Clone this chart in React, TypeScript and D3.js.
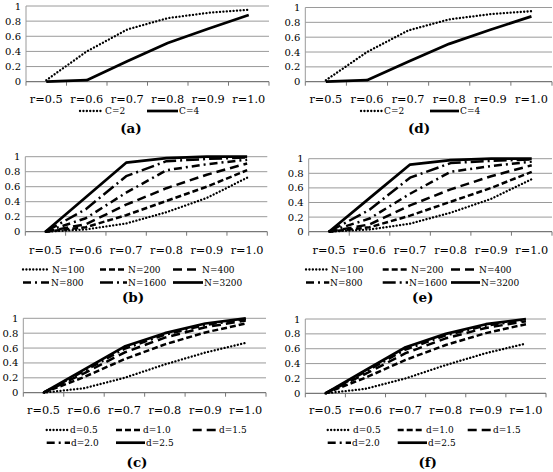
import React from "react";
import * as d3 from "d3";

const categories = ["r=0.5", "r=0.6", "r=0.7", "r=0.8", "r=0.9", "r=1.0"];
const yTicks = [0, 0.2, 0.4, 0.6, 0.8, 1];
const yTickLabels = ["0", "0.2", "0.4", "0.6", "0.8", "1"];

// Panel (a)/(d) series
const seriesCNames = ["C=2", "C=4"];
const c2 = [0.02, 0.4, 0.69, 0.84, 0.91, 0.95];
const c4 = [0, 0.02, 0.27, 0.51, 0.7, 0.88];

// Panel (b)/(e) series
const seriesNNames = ["N=100", "N=200", "N=400", "N=800", "N=1600", "N=3200"];
const n100 = [0, 0.03, 0.11, 0.26, 0.45, 0.72];
const n200 = [0, 0.06, 0.22, 0.41, 0.6, 0.82];
const n400 = [0, 0.1, 0.36, 0.58, 0.76, 0.91];
const n800 = [0, 0.18, 0.52, 0.82, 0.9, 0.96];
const n1600 = [0, 0.3, 0.74, 0.94, 0.97, 0.99];
const n3200 = [0, 0.46, 0.92, 0.98, 1.0, 1.0];

// Panel (c)/(f) series
const seriesDNames = ["d=0.5", "d=1.0", "d=1.5", "d=2.0", "d=2.5"];
const d05 = [0, 0.06, 0.2, 0.38, 0.54, 0.67];
const d10 = [0, 0.21, 0.45, 0.65, 0.81, 0.93];
const d15 = [0, 0.26, 0.54, 0.74, 0.88, 0.97];
const d20 = [0, 0.29, 0.59, 0.78, 0.91, 0.99];
const d25 = [0, 0.31, 0.62, 0.8, 0.93, 1.0];

type Style = { dash: string; width: number; cap: "butt" | "round" };
const DOT: Style = { dash: "0.1,3.3", width: 2.3, cap: "round" };
const SOLID: Style = { dash: "", width: 2.7, cap: "butt" };
const SHORTDASH: Style = { dash: "6,3", width: 2.5, cap: "butt" };
const LONGDASH: Style = { dash: "9,5", width: 2.5, cap: "butt" };
const DASHDOT: Style = { dash: "8,4,2,4", width: 2.5, cap: "butt" };
const LONGDASHDOT: Style = { dash: "13,4,2,4", width: 2.5, cap: "butt" };

type Series = { name: string; values: number[]; style: Style };

const cSeries: Series[] = [
  { name: seriesCNames[0], values: c2, style: DOT },
  { name: seriesCNames[1], values: c4, style: SOLID },
];
const nSeries: Series[] = [
  { name: seriesNNames[0], values: n100, style: DOT },
  { name: seriesNNames[1], values: n200, style: SHORTDASH },
  { name: seriesNNames[2], values: n400, style: LONGDASH },
  { name: seriesNNames[3], values: n800, style: DASHDOT },
  { name: seriesNNames[4], values: n1600, style: LONGDASHDOT },
  { name: seriesNNames[5], values: n3200, style: SOLID },
];
const dSeries: Series[] = [
  { name: seriesDNames[0], values: d05, style: DOT },
  { name: seriesDNames[1], values: d10, style: SHORTDASH },
  { name: seriesDNames[2], values: d15, style: LONGDASH },
  { name: seriesDNames[3], values: d20, style: DASHDOT },
  { name: seriesDNames[4], values: d25, style: SOLID },
];

type LegendPos = { x1: number; x2: number; tx: number; y: number };
type Layout = {
  x0: number;
  x1: number;
  yTop: number;
  yBot: number;
  xLabelY: number;
  legend: LegendPos[];
  capX: number;
  capY: number;
  caption: string;
  series: Series[];
};

const row = (y: number, items: [number, number, number][]): LegendPos[] =>
  items.map(([x1, x2, tx]) => ({ x1, x2, tx, y }));

const layouts: Layout[] = [
  {
    x0: 26, x1: 269, yTop: 6, yBot: 81.7, xLabelY: 103,
    legend: row(111, [[80, 103, 105], [147, 178, 179]]),
    capX: 131, capY: 133, caption: "(a)", series: cSeries,
  },
  {
    x0: 25.3, x1: 267.3, yTop: 156.7, yBot: 231.7, xLabelY: 253.5,
    legend: [
      ...row(269.5, [[23, 50, 52], [100, 127, 128], [173, 200, 202]]),
      ...row(282.5, [[23, 50, 51], [100, 127, 128], [173, 203, 204]]),
    ],
    capX: 133, capY: 301.5, caption: "(b)", series: nSeries,
  },
  {
    x0: 23.3, x1: 266, yTop: 318.3, yBot: 392.7, xLabelY: 414,
    legend: [
      ...row(430, [[46.7, 68, 70], [116, 141.7, 143], [192.7, 216.7, 219]]),
      ...row(442.7, [[46.7, 70, 71], [116, 145, 146]]),
    ],
    capX: 137, capY: 467, caption: "(c)", series: dSeries,
  },
  {
    x0: 305.3, x1: 552, yTop: 7.5, yBot: 81.7, xLabelY: 103,
    legend: row(111, [[361, 382, 384], [430, 459, 460]]),
    capX: 419, capY: 133, caption: "(d)", series: cSeries,
  },
  {
    x0: 308.7, x1: 552, yTop: 158.7, yBot: 231.7, xLabelY: 253.5,
    legend: [
      ...row(269.5, [[306, 329.3, 331], [382.7, 409.3, 411], [451, 477, 479]]),
      ...row(282.5, [[306, 329.3, 330], [382.7, 408, 409], [451, 480, 481]]),
    ],
    capX: 422.7, capY: 301.5, caption: "(e)", series: nSeries,
  },
  {
    x0: 305.3, x1: 546, yTop: 319, yBot: 393.3, xLabelY: 414,
    legend: [
      ...row(430, [[327.7, 351, 353], [397.7, 424.3, 426], [467.7, 491, 493]]),
      ...row(442.7, [[327.7, 351, 352], [397.7, 427, 428]]),
    ],
    capX: 427.7, capY: 467, caption: "(f)", series: dSeries,
  },
];

const FONT = "'DejaVu Serif', serif";
const GRID = "#9a9a9a";

function Panel({ L }: { L: Layout }) {
  const x = d3.scaleBand<string>().domain(categories).range([L.x0, L.x1]).padding(0);
  const y = d3.scaleLinear().domain([0, 1]).range([L.yBot, L.yTop]);
  const line = d3
    .line<number>()
    .x((_, i) => (x(categories[i]) as number) + x.bandwidth() / 2)
    .y((v) => y(v));
  const boundaries = [...categories.map((c) => x(c) as number), L.x1];
  return (
    <g>
      {yTicks.map((t, i) => (
        <g key={"y" + i}>
          {t > 0 && (
            <line x1={L.x0} x2={L.x1} y1={y(t)} y2={y(t)} stroke={GRID} strokeWidth={1} />
          )}
          <text
            x={L.x0 - 5}
            y={y(t)}
            dy="0.35em"
            textAnchor="end"
            fontFamily={FONT}
            fontSize={10}
            fill="#000"
          >
            {yTickLabels[i]}
          </text>
        </g>
      ))}
      <line x1={L.x0} x2={L.x0} y1={L.yTop} y2={L.yBot} stroke={GRID} strokeWidth={1} />
      <line x1={L.x0} x2={L.x1} y1={L.yBot} y2={L.yBot} stroke="#777" strokeWidth={1.2} />
      {boundaries.map((bx, i) => (
        <line key={"t" + i} x1={bx} x2={bx} y1={L.yBot} y2={L.yBot + 4} stroke="#777" strokeWidth={1} />
      ))}
      {categories.map((c) => (
        <text
          key={c}
          x={(x(c) as number) + x.bandwidth() / 2}
          y={L.xLabelY}
          textAnchor="middle"
          fontFamily={FONT}
          fontSize={11.3}
          fill="#000"
        >
          {c}
        </text>
      ))}
      {L.series.map((s) => (
        <path
          key={s.name}
          d={line(s.values) || ""}
          fill="none"
          stroke="#000"
          strokeWidth={s.style.width}
          strokeDasharray={s.style.dash}
          strokeLinecap={s.style.cap}
          strokeLinejoin="round"
        />
      ))}
      {L.series.map((s, i) => {
        const p = L.legend[i];
        return (
          <g key={"lg" + s.name}>
            <line
              x1={p.x1}
              x2={p.x2}
              y1={p.y}
              y2={p.y}
              stroke="#000"
              strokeWidth={s.style.width}
              strokeDasharray={s.style.dash}
              strokeLinecap={s.style.cap}
            />
            <text x={p.tx} y={p.y} dy="0.35em" fontFamily={FONT} fontSize={9} fill="#000">
              {s.name}
            </text>
          </g>
        );
      })}
      <text
        x={L.capX}
        y={L.capY}
        textAnchor="middle"
        fontFamily={FONT}
        fontWeight="bold"
        fontSize={13.5}
        fill="#000"
      >
        {L.caption}
      </text>
    </g>
  );
}

export default function App() {
  return (
    <svg
      width={553}
      height={472}
      style={{ position: "absolute", left: 0, top: 0, background: "#fff" }}
    >
      <rect width={553} height={472} fill="#fff" />
      {layouts.map((L) => (
        <Panel key={L.caption} L={L} />
      ))}
    </svg>
  );
}
